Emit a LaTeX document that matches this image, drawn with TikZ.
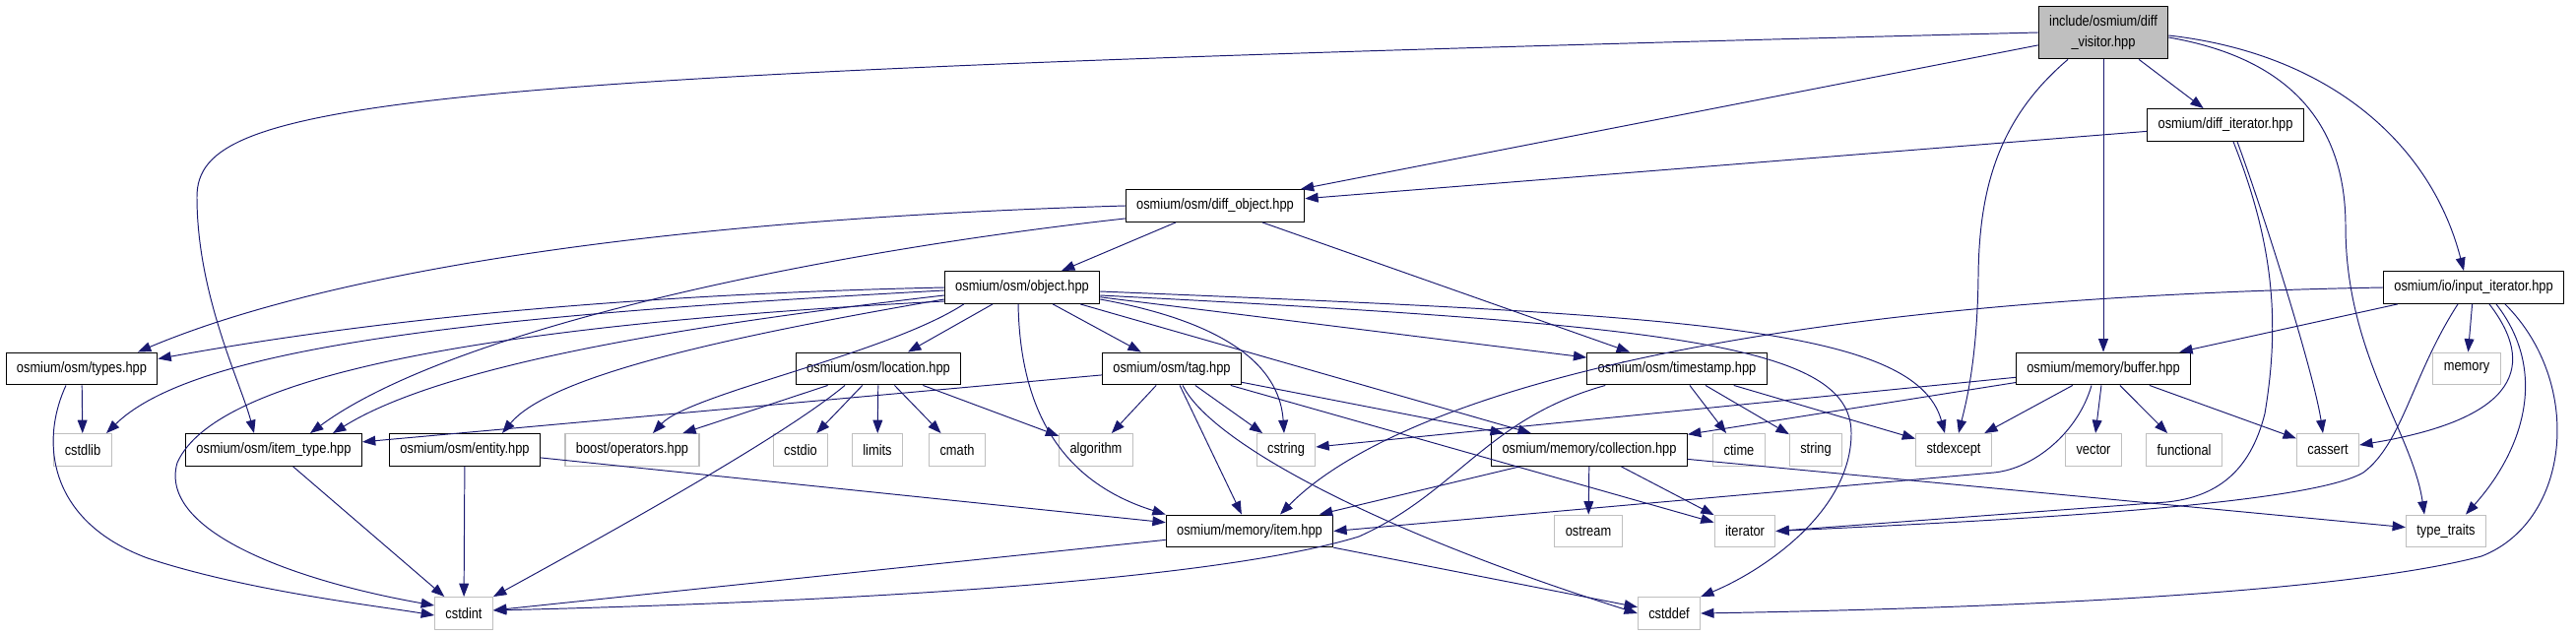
\documentclass[tikz,border=0pt]{standalone}
\usepackage{fontspec}
\setmainfont{Liberation Sans}[FakeStretch=0.85]
\usetikzlibrary{arrows.meta,calc}
\definecolor{edgeblue}{HTML}{191970}
\definecolor{boxgray}{HTML}{BFBFBF}

\begin{document}
\begin{tikzpicture}[x=0.02cm, y=-0.02cm,
    hdr/.style={draw=black, line width=0.6pt, fill=white, inner xsep=6.2pt, inner ysep=0pt,
        minimum height=18.7pt, font=\fontsize{8.6}{12.3}\selectfont},
    sys/.style={hdr, draw=boxgray},
    root/.style={hdr, fill=boxgray, align=center, minimum height=30.6pt},
    inc/.style={draw=edgeblue, line width=0.55pt, -{Triangle[length=7.6pt,width=5.6pt]}}]
    \useasboundingbox (0,0) rectangle (2616,645);

    % Root and first levels
    \node[root] (visitor) at (2136,33) {include/osmium/diff\\\_visitor.hpp};
    \node[hdr] (diffiter) at (2260,127) {osmium/diff\_iterator.hpp};
    \node[hdr] (diffobj) at (1234,209) {osmium/osm/diff\_object.hpp};
    \node[hdr] (object) at (1038,292) {osmium/osm/object.hpp};
    \node[hdr] (inputiter) at (2512,292) {osmium/io/input\_iterator.hpp};

    % Headers of the osm and memory modules
    \node[hdr] (types) at (83,374.5) {osmium/osm/types.hpp};
    \node[hdr] (location) at (892,374.5) {osmium/osm/location.hpp};
    \node[hdr] (tag) at (1190,374.5) {osmium/osm/tag.hpp};
    \node[hdr] (timestamp) at (1703,374.5) {osmium/osm/timestamp.hpp};
    \node[hdr] (buffer) at (2136,374.5) {osmium/memory/buffer.hpp};
    \node[sys] (memory) at (2505,374.5) {memory};

    \node[sys] (cstdlib) at (84,457) {cstdlib};
    \node[hdr] (itemtype) at (278,457) {osmium/osm/item\_type.hpp};
    \node[hdr] (entity) at (472,457) {osmium/osm/entity.hpp};
    \node[sys] (boostops) at (642,457) {boost/operators.hpp};
    \node[sys] (cstdio) at (813,457) {cstdio};
    \node[sys] (limits) at (891,457) {limits};
    \node[sys] (cmath) at (972,457) {cmath};
    \node[sys] (algorithm) at (1113,457) {algorithm};
    \node[sys] (cstring) at (1306,457) {cstring};
    \node[hdr] (collection) at (1614,457) {osmium/memory/collection.hpp};
    \node[sys] (ctime) at (1766,457) {ctime};
    \node[sys] (string) at (1844,457) {string};
    \node[sys] (stdexcept) at (1984,457) {stdexcept};
    \node[sys] (vector) at (2126,457) {vector};
    \node[sys] (functional) at (2218,457) {functional};
    \node[sys] (cassert) at (2364,457) {cassert};

    \node[hdr] (item) at (1269,539.5) {osmium/memory/item.hpp};
    \node[sys] (ostream) at (1613,539.5) {ostream};
    \node[sys] (iterator) at (1772,539.5) {iterator};
    \node[sys] (typetraits) at (2484,539.5) {type\_traits};

    \node[sys] (cstdint) at (471,623) {cstdint};
    \node[sys] (cstddef) at (1695,623) {cstddef};

    % diff_visitor.hpp
    \draw[inc] (visitor.west) .. controls (400,75) and (200,100) .. (200,200)
        .. controls (200,300) and (245,390) .. ($(itemtype.north)+(-20,0)$);
    \draw[inc] (visitor) -- (diffobj);
    \draw[inc] (visitor) -- (diffiter);
    \draw[inc] (visitor) -- (buffer);
    \draw[inc] ($(visitor.south)+(-36,0)$) .. controls (2030,120) and (2010,190) .. (2009,280)
        .. controls (2008,370) and (1995,415) .. ($(stdexcept.north)+(5,0)$);
    \draw[inc] ($(visitor.east)+(0,5)$) .. controls (2330,60) and (2382,130) .. (2382,230)
        .. controls (2382,360) and (2450,440) .. ($(typetraits.north)+(-22,0)$);
    \draw[inc] ($(visitor.east)+(0,3)$) .. controls (2370,55) and (2470,150) .. ($(inputiter.north)+(-10,0)$);

    % diff_iterator.hpp
    \draw[inc] (diffiter) -- (diffobj);
    \draw[inc] ($(diffiter.south)+(8,0)$) .. controls (2310,250) and (2315,330) .. (2300,420)
        .. controls (2285,480) and (2250,505) .. (2200,510) -- (iterator.east);
    \draw[inc] ($(diffiter.south)+(12,0)$) .. controls (2300,220) and (2350,380) .. ($(cassert.north)+(-5,0)$);

    % diff_object.hpp
    \draw[inc] (diffobj.west) .. controls (600,225) and (300,290) .. ($(types.north)+(57,0)$);
    \draw[inc] ($(diffobj.south west)+(0,-4)$) .. controls (800,260) and (450,340) .. ($(itemtype.north)+(37,0)$);
    \draw[inc] (diffobj) -- (object);
    \draw[inc] (diffobj) -- (timestamp);

    % object.hpp
    \draw[inc] (object.west) .. controls (600,300) and (350,330) .. ($(types.east)+(0,-10)$);
    \draw[inc] ($(object.west)+(0,3)$) .. controls (500,320) and (200,350) .. ($(cstdlib.north)+(24,0)$);
    \draw[inc] ($(object.west)+(0,8)$) .. controls (700,330) and (450,370) .. ($(itemtype.north)+(60,0)$);
    \draw[inc] ($(object.west)+(0,12)$) .. controls (750,340) and (560,380) .. ($(entity.north)+(38,0)$);
    \draw[inc] ($(object.west)+(0,14)$) .. controls (500,330) and (220,380) .. (180,470)
        .. controls (160,540) and (300,590) .. ($(cstdint.west)+(0,-8)$);
    \draw[inc] ($(object.south west)+(20,0)$) .. controls (900,360) and (700,400) .. ($(boostops.north)+(21,0)$);
    \draw[inc] (object) -- (location);
    \draw[inc] ($(object.south)+(-4,0)$) .. controls (1036,420) and (1080,490) .. (item.north west);
    \draw[inc] (object) -- (tag);
    \draw[inc] ($(object.east)+(0,12)$) .. controls (1260,330) and (1300,380) .. ($(cstring.north)+(-2,0)$);
    \draw[inc] (object) -- (collection);
    \draw[inc] (object) -- (timestamp);
    \draw[inc] ($(object.east)+(0,4)$) .. controls (1700,320) and (1945,330) .. ($(stdexcept.north)+(-9,0)$);
    \draw[inc] ($(object.east)+(0,8)$) .. controls (1700,330) and (1880,350) .. (1880,440)
        .. controls (1880,520) and (1790,580) .. (cstddef.north east);

    % input_iterator.hpp
    \draw[inc] (inputiter.west) .. controls (1700,305) and (1400,420) .. ($(item.north)+(31,0)$);
    \draw[inc] (inputiter) -- (buffer);
    \draw[inc] (inputiter) -- (memory);
    \draw[inc] ($(inputiter.south)+(-16,0)$) .. controls (2450,380) and (2440,450) .. (2400,480)
        .. controls (2340,515) and (2000,530) .. (iterator.east);
    \draw[inc] ($(inputiter.south)+(16,0)$) .. controls (2575,370) and (2560,425) .. ($(cassert.east)+(0,-5)$);
    \draw[inc] ($(inputiter.south)+(23,0)$) .. controls (2590,380) and (2560,460) .. ($(typetraits.north)+(20,0)$);
    \draw[inc] ($(inputiter.south)+(32,0)$) .. controls (2625,390) and (2610,530) .. (2520,565)
        .. controls (2350,610) and (1900,620) .. (cstddef.east);

    % buffer.hpp
    \draw[inc] (buffer) -- (cstring);
    \draw[inc] (buffer) -- (collection);
    \draw[inc] ($(buffer.south)+(-12,0)$) .. controls (2110,440) and (2065,476) .. (2025,480) -- (item.east);
    \draw[inc] (buffer) -- (stdexcept);
    \draw[inc] (buffer) -- (vector);
    \draw[inc] (buffer) -- (functional);
    \draw[inc] (buffer) -- (cassert);

    % timestamp.hpp
    \draw[inc] ($(timestamp.south west)+(19,0)$) .. controls (1510,425) and (1480,500) .. (1380,545)
        .. controls (1200,600) and (700,615) .. ($(cstdint.east)+(0,-3)$);
    \draw[inc] (timestamp) -- (ctime);
    \draw[inc] (timestamp) -- (string);
    \draw[inc] (timestamp) -- (stdexcept);

    % tag.hpp
    \draw[inc] (tag) -- (itemtype);
    \draw[inc] (tag) -- (algorithm);
    \draw[inc] (tag) -- (item);
    \draw[inc] ($(tag.south)+(11,0)$) .. controls (1230,450) and (1400,540) .. (cstddef.west);
    \draw[inc] (tag) -- (cstring);
    \draw[inc] (tag) -- (collection);
    \draw[inc] (tag) -- (iterator);

    % location.hpp
    \draw[inc] (location) -- (boostops);
    \draw[inc] ($(location.south)+(-34,0)$) .. controls (800,440) and (640,530) .. (cstdint.north east);
    \draw[inc] (location) -- (cstdio);
    \draw[inc] (location) -- (limits);
    \draw[inc] (location) -- (cmath);
    \draw[inc] (location) -- (algorithm);

    % Lower levels
    \draw[inc] (types) -- (cstdlib);
    \draw[inc] ($(types.south)+(-16,0)$) .. controls (40,450) and (50,530) .. (150,567)
        .. controls (250,600) and (380,615) .. ($(cstdint.west)+(0,2)$);
    \draw[inc] (itemtype) -- (cstdint);
    \draw[inc] (entity) -- (cstdint);
    \draw[inc] (entity) -- (item);
    \draw[inc] (collection) -- (item);
    \draw[inc] (collection) -- (ostream);
    \draw[inc] (collection) -- (iterator);
    \draw[inc] (collection) -- (typetraits);
    \draw[inc] (item) -- (cstdint);
    \draw[inc] (item) -- (cstddef);
\end{tikzpicture}
\end{document}
